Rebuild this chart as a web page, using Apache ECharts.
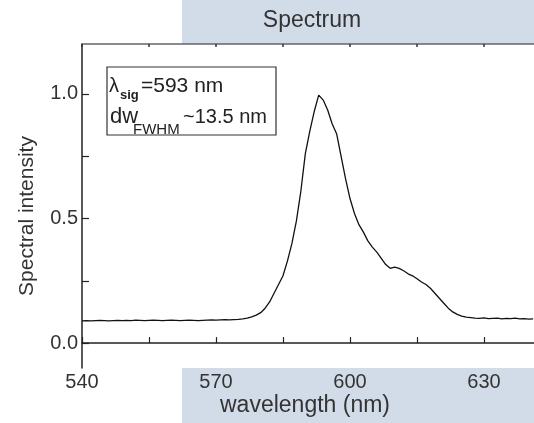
<!DOCTYPE html>
<html>
<head>
<meta charset="utf-8">
<script src="https://cdn.jsdelivr.net/npm/echarts@6/dist/echarts.min.js"></script>
<style>
  html, body { margin: 0; padding: 0; background: #fff; }
  #main { width: 534px; height: 423px; }
</style>
</head>
<body>
<div id="main"></div>
<script>
// wavelength (nm) and normalised spectral intensity
var wavelength = [
  540,541,542,543,544,545,546,547,548,549,
  550,551,552,553,554,555,556,557,558,559,
  560,561,562,563,564,565,566,567,568,569,
  570,571,572,573,574,575,576,577,578,579,
  580,581,582,583,584,585,586,587,588,589,
  590,591,592,593,594,595,596,597,598,599,
  600,601,602,603,604,605,606,607,608,609,
  610,611,612,613,614,615,616,617,618,619,
  620,621,622,623,624,625,626,627,628,629,
  630,631,632,633,634,635,636,637,638,639,
  640,641
];
var intensity = [
  0.089,0.090,0.089,0.090,0.091,0.090,0.089,0.090,0.091,0.090,
  0.091,0.090,0.092,0.091,0.090,0.091,0.092,0.091,0.090,0.091,
  0.092,0.091,0.090,0.091,0.092,0.091,0.090,0.091,0.092,0.093,
  0.092,0.093,0.094,0.093,0.094,0.095,0.097,0.100,0.105,0.112,
  0.122,0.140,0.165,0.200,0.235,0.270,0.330,0.400,0.490,0.610,
  0.760,0.850,0.930,0.995,0.975,0.935,0.880,0.840,0.750,0.660,
  0.580,0.520,0.475,0.445,0.410,0.385,0.365,0.340,0.315,0.300,
  0.305,0.300,0.290,0.278,0.270,0.258,0.245,0.235,0.220,0.200,
  0.180,0.160,0.140,0.125,0.115,0.108,0.104,0.102,0.100,0.099,
  0.101,0.098,0.099,0.100,0.097,0.099,0.098,0.100,0.097,0.098,
  0.096,0.097
];
var xTicks = [540, 555, 570, 585, 600, 615, 630];
var xLabels = [540, 570, 600, 630];
var yTicks = [0, 0.25, 0.5, 0.75, 1.0];
var yLabels = [0, 0.5, 1.0];

var font = 'Liberation Sans, Arial, Helvetica, sans-serif';
var band = '#d2dce8';

var chart = echarts.init(document.getElementById('main'));

var points = wavelength.map(function (w, i) { return [w, intensity[i]]; });

chart.setOption({
  animation: false,
  backgroundColor: '#fff',
  grid: {
    left: 82, top: 44, width: 469, height: 324,
    outerBoundsMode: 'none',
    containLabel: false
  },
  xAxis: [{
    type: 'value', min: 540, max: 645, position: 'bottom',
    axisLine: { lineStyle: { color: '#222', width: 1.5 } },
    axisTick: { inside: true, length: 6, customValues: xTicks, lineStyle: { color: '#222', width: 1.2 } },
    axisLabel: { customValues: xLabels, margin: 4, fontSize: 20, color: '#333', fontFamily: font },
    splitLine: { show: false }
  }, {
    type: 'value', min: 540, max: 645, position: 'top',
    axisLine: { lineStyle: { color: '#666', width: 1.5 } },
    axisTick: { inside: true, length: 3, customValues: xTicks, lineStyle: { color: '#333', width: 1.5 } },
    axisLabel: { show: false },
    splitLine: { show: false }
  }],
  yAxis: [{
    type: 'value', min: -0.1, max: 1.2,
    axisLine: { show: true, lineStyle: { color: '#222', width: 1.5 } },
    axisTick: { show: true, inside: true, length: 7, customValues: yTicks, lineStyle: { color: '#222', width: 1.2 } },
    axisLabel: {
      customValues: yLabels, margin: 4, fontSize: 20, color: '#333', fontFamily: font,
      formatter: function (v) { return v.toFixed(1); }
    },
    splitLine: { show: false }
  }],
  series: [{
    type: 'line',
    data: points,
    showSymbol: false,
    symbol: 'none',
    lineStyle: { color: '#111', width: 1.3 },
    z: 5
  }],
  graphic: [
    // shaded bands behind the title and the x axis name
    { type: 'rect', z: -10, silent: true, shape: { x: 182, y: 0, width: 352, height: 44 }, style: { fill: band } },
    { type: 'rect', z: -10, silent: true, shape: { x: 182, y: 368, width: 352, height: 55 }, style: { fill: band } },
    { type: 'text', x: 312, y: 21, style: { text: 'Spectrum', font: '23px ' + font, fill: '#333', align: 'center', verticalAlign: 'middle' } },
    { type: 'text', x: 305, y: 406, style: { text: 'wavelength (nm)', font: '23px ' + font, fill: '#333', align: 'center', verticalAlign: 'middle' } },
    { type: 'text', x: 27, y: 216, rotation: Math.PI / 2, style: { text: 'Spectral intensity', font: '21px ' + font, fill: '#333', align: 'center', verticalAlign: 'middle' } },
    // annotation box
    { type: 'rect', z: 10, shape: { x: 107, y: 67, width: 169, height: 68 }, style: { fill: '#fff', stroke: '#333', lineWidth: 1.2 } },
    { type: 'text', z: 11, x: 109, y: 86, style: { text: 'λ', font: '20px ' + font, fill: '#222', align: 'left', verticalAlign: 'middle' } },
    { type: 'text', z: 11, x: 120, y: 95, style: { text: 'sig', font: 'bold 13px ' + font, fill: '#222', align: 'left', verticalAlign: 'middle' } },
    { type: 'text', z: 11, x: 141, y: 86, style: { text: '=593 nm', font: '21px ' + font, fill: '#222', align: 'left', verticalAlign: 'middle' } },
    { type: 'text', z: 11, x: 110, y: 117, style: { text: 'dw', font: '22px ' + font, fill: '#222', align: 'left', verticalAlign: 'middle' } },
    { type: 'text', z: 11, x: 133, y: 130, style: { text: 'FWHM', font: '15px ' + font, fill: '#222', align: 'left', verticalAlign: 'middle' } },
    { type: 'text', z: 11, x: 183, y: 117, style: { text: '~13.5 nm', font: '20px ' + font, fill: '#222', align: 'left', verticalAlign: 'middle' } }
  ]
});
</script>
</body>
</html>
